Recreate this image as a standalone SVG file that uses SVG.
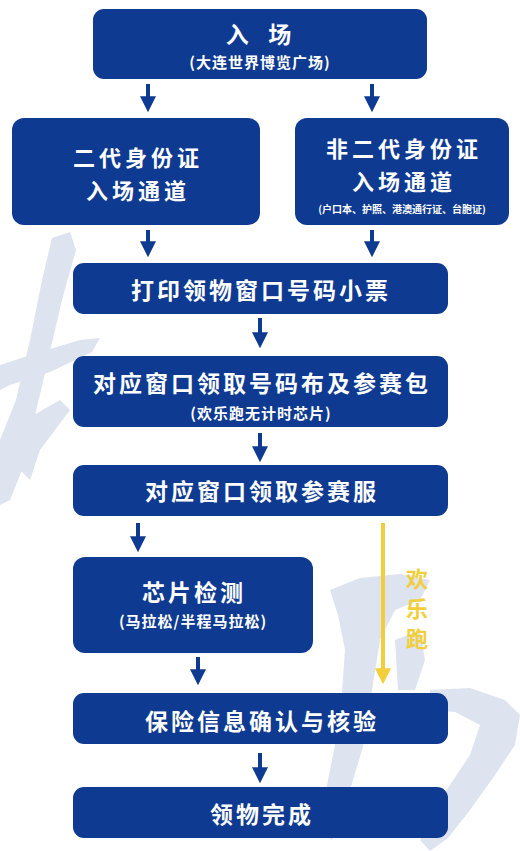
<svg xmlns="http://www.w3.org/2000/svg" width="520" height="851" viewBox="0 0 520 851">
<style>
.box{fill:#0e3a92}
.t{font-family:"Noto Sans CJK SC","Noto Sans",sans-serif;font-weight:700;fill:#ffffff;text-anchor:middle;dominant-baseline:central}
.big{font-size:23px;letter-spacing:3px}
.b2{font-size:22px;letter-spacing:4px}
.mid{font-size:15px;letter-spacing:1px}
.sm{font-size:10px}
.arr{stroke:#0e3a92;stroke-width:4;fill:none}
.wm{fill:#dde3ef}
.y{font-family:"Noto Sans CJK SC",sans-serif;font-weight:700;font-size:22px;fill:#f2cf3a;text-anchor:middle;dominant-baseline:central}
</style>
<defs>
<marker id="ah" markerWidth="4" markerHeight="4" refX="2.2" refY="2" orient="auto" markerUnits="strokeWidth"><path d="M0,0 L4,2 L0,4 Z" fill="#0e3a92"/></marker>
<marker id="ahy" markerWidth="4" markerHeight="4" refX="2.2" refY="2" orient="auto" markerUnits="strokeWidth"><path d="M0,0 L4,2 L0,4 Z" fill="#f2cf3a"/></marker>
</defs>
<rect width="520" height="851" fill="#ffffff"/>
<g id="watermark">
<path class="wm" d="M52,238 L70,232 L76,250 L62,300 L48,360 L34,420 L22,470 L10,500 L0,505 L0,440 L16,400 L30,340 L42,280 Z"/>
<path class="wm" d="M0,365 L40,352 L80,340 L100,338 L92,352 L50,372 L10,385 L0,390 Z"/>
<path class="wm" d="M25,420 L60,400 L70,410 L40,450 L30,480 L20,470 Z"/>
<path class="wm" d="M330,590 L360,578 L400,574 L430,580 L420,600 L395,610 L380,640 L372,690 L365,740 L350,790 L332,840 L318,830 L328,780 L340,720 L345,650 L338,615 Z"/>
<path class="wm" d="M430,690 L470,688 L505,700 L520,715 L515,745 L495,775 L470,810 L448,838 L430,851 L420,840 L440,800 L470,755 L480,725 L455,712 L430,710 Z"/>
<path class="wm" d="M395,640 L420,630 L425,660 L415,690 L398,690 Z"/>
</g>
<g id="connectors">
<line class="arr" x1="148" y1="84" x2="148" y2="105" marker-end="url(#ah)"/>
<line class="arr" x1="372" y1="84" x2="372" y2="105" marker-end="url(#ah)"/>
<line class="arr" x1="148" y1="230" x2="148" y2="250" marker-end="url(#ah)"/>
<line class="arr" x1="372" y1="230" x2="372" y2="250" marker-end="url(#ah)"/>
<line class="arr" x1="260" y1="318" x2="260" y2="341" marker-end="url(#ah)"/>
<line class="arr" x1="260" y1="433" x2="260" y2="455" marker-end="url(#ah)"/>
<line class="arr" x1="138" y1="523" x2="138" y2="545" marker-end="url(#ah)"/>
<line class="arr" x1="198" y1="657" x2="198" y2="678" marker-end="url(#ah)"/>
<line class="arr" x1="260" y1="753" x2="260" y2="776" marker-end="url(#ah)"/>
<line x1="383" y1="523" x2="383" y2="677" stroke="#f2cf3a" stroke-width="4" marker-end="url(#ahy)"/>
<text class="y" x="417" y="577">欢</text>
<text class="y" x="417" y="607">乐</text>
<text class="y" x="417" y="637">跑</text>
</g>
<g id="n-entry">
<rect class="box" x="93" y="9" width="334" height="70" rx="11"/>
<text class="t big" x="260" y="33" xml:space="preserve">入  场</text>
<text class="t mid" x="260" y="61">(大连世界博览广场)</text>
</g>
<g id="n-id2">
<rect class="box" x="12" y="118" width="248" height="107" rx="12"/>
<text class="t b2" x="138" y="156">二代身份证</text>
<text class="t b2" x="138" y="189">入场通道</text>
</g>
<g id="n-nonid2">
<rect class="box" x="295" y="118" width="214" height="107" rx="12"/>
<text class="t b2" x="404" y="147">非二代身份证</text>
<text class="t b2" x="404" y="180">入场通道</text>
<text class="t sm" x="402" y="208">(户口本、护照、港澳通行证、台胞证)</text>
</g>
<g id="n-print">
<rect class="box" x="73" y="263" width="375" height="51" rx="11"/>
<text class="t big" x="261" y="289">打印领物窗口号码小票</text>
</g>
<g id="n-bib">
<rect class="box" x="73" y="356" width="375" height="71" rx="11"/>
<text class="t big" x="262" y="382">对应窗口领取号码布及参赛包</text>
<text class="t mid" x="261" y="412">(欢乐跑无计时芯片)</text>
</g>
<g id="n-shirt">
<rect class="box" x="73" y="465" width="375" height="51" rx="11"/>
<text class="t big" x="262" y="490">对应窗口领取参赛服</text>
</g>
<g id="n-chip">
<rect class="box" x="73" y="557" width="240" height="96" rx="12"/>
<text class="t big" x="194" y="591">芯片检测</text>
<text class="t mid" x="193" y="620">(马拉松/半程马拉松)</text>
</g>
<g id="n-insure">
<rect class="box" x="73" y="693" width="375" height="51" rx="11"/>
<text class="t big" x="262" y="720">保险信息确认与核验</text>
</g>
<g id="n-done">
<rect class="box" x="73" y="787" width="375" height="51" rx="11"/>
<text class="t big" x="262" y="813">领物完成</text>
</g>
</svg>
